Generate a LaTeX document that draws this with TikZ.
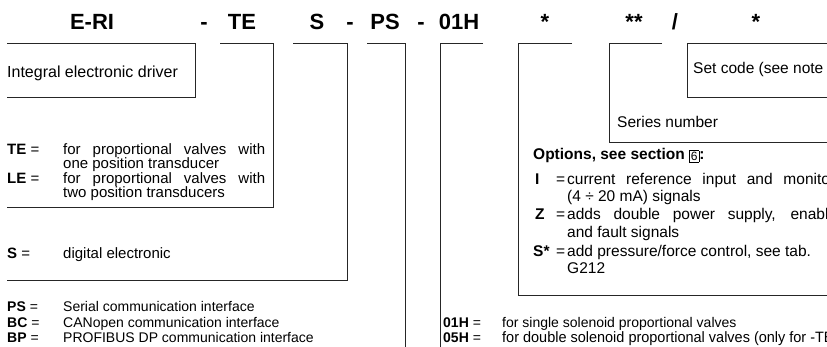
\documentclass[tikz,border=0pt]{standalone}
\usepackage{fontspec}
\setmainfont{Liberation Sans}
\usetikzlibrary{positioning}

% small framed section number
\newcommand{\secbox}[1]{{\setlength{\fboxsep}{1.2pt}\setlength{\fboxrule}{0.6pt}\raisebox{-0.5pt}{\fbox{\fontsize{12}{12}\selectfont\mdseries #1}}}}
% justified line of given width
\newcommand{\jline}[2]{\makebox[#1][s]{#2}}

\begin{document}
\begin{tikzpicture}[
    x=1pt, y=-1pt,
    font=\fontsize{15}{17}\selectfont,
    code/.style={anchor=base, inner sep=0pt, font=\fontsize{22}{24}\selectfont\bfseries},
    txt/.style={anchor=base west, inner sep=0pt},
    bigtxt/.style={txt, font=\fontsize{16}{18}\selectfont},
    opttxt/.style={txt, font=\fontsize{15.5}{18}\selectfont},
    smalltxt/.style={txt, font=\fontsize{14}{16}\selectfont},
    head/.style={txt, font=\fontsize{15.5}{18}\selectfont\bfseries},
    rule/.style={draw=black!85, line width=0.9pt}
]
    \useasboundingbox (0,0) rectangle (827,347);
    \clip (0,0) rectangle (827,347);

    % --- code line ---
    \node[code] (eri) at (92,30) {E-RI};
    \node[code] (dash1) at (204,30) {-};
    \node[code] (te) at (242,30) {TE};
    \node[code] (s) at (317,30) {S};
    \node[code] (dash2) at (350,30) {-};
    \node[code] (ps) at (385,30) {PS};
    \node[code] (dash3) at (421,30) {-};
    \node[code] (sol) at (459,30) {01H};
    \node[code] (opt) at (545,30) {*};
    \node[code] (ser) at (634,30) {**};
    \node[code] (slash) at (675,30) {/};
    \node[code] (set) at (756,30) {*};

    % --- brackets ---
    \draw[rule] (7,43) -- (195,43) -- (195,97) -- (7,97);
    \draw[rule] (220,43) -- (273,43) -- (273,207) -- (7,207);
    \draw[rule] (293,43) -- (347,43) -- (347,280) -- (7,280);
    \draw[rule] (367,43) -- (405,43) -- (405,347);
    \draw[rule] (483,43) -- (440,43) -- (440,347);
    \draw[rule] (572,43) -- (518,43) -- (518,295) -- (827,295);
    \draw[rule] (662,43) -- (609,43) -- (609,142) -- (827,142);
    \draw[rule] (827,43) -- (687,43) -- (687,97) -- (827,97);

    % --- left column ---
    \node[bigtxt] (drv) at (7,78) {Integral electronic driver};

    \node[txt] (tekey) at (7,155) {\textbf{TE} =};
    \node[txt] (te1) at (63,155) {\jline{202pt}{for proportional valves with}};
    \node[txt] (te2) at (63,169) {one position transducer};
    \node[txt] (lekey) at (7,184) {\textbf{LE} =};
    \node[txt] (le1) at (63,184) {\jline{202pt}{for proportional valves with}};
    \node[txt] (le2) at (63,198) {two position transducers};

    \node[txt] (skey) at (7,259) {\textbf{S} =};
    \node[txt] (sdesc) at (63,259) {digital electronic};

    \node[smalltxt] (pskey) at (7,312) {\textbf{PS} =};
    \node[smalltxt] (psdesc) at (63,312) {Serial communication interface};
    \node[smalltxt] (bckey) at (7,327) {\textbf{BC} =};
    \node[smalltxt] (bcdesc) at (63,327) {CANopen communication interface};
    \node[smalltxt] (bpkey) at (7,342) {\textbf{BP} =};
    \node[smalltxt] (bpdesc) at (63,342) {PROFIBUS DP communication interface};

    % --- right column ---
    \node[opttxt] (setdesc) at (693,74) {Set code (see note 1)};
    \node[opttxt] (serdesc) at (617,128) {Series number};

    \node[head] (opthead) at (533,160) {Options, see section \secbox{6}:};
    \node[opttxt] (ikey) at (535,185) {\textbf{I}};
    \node[opttxt] (ieq) at (556,185) {=};
    \node[opttxt] (i1) at (567,185) {\jline{268pt}{current reference input and monitor}};
    \node[opttxt] (i2) at (567,202) {(4 ÷ 20 mA) signals};
    \node[opttxt] (zkey) at (535,220) {\textbf{Z}};
    \node[opttxt] (zeq) at (556,220) {=};
    \node[opttxt] (z1) at (567,220) {\jline{270pt}{adds double power supply, enable}};
    \node[opttxt] (z2) at (567,238) {and fault signals};
    \node[opttxt] (skey2) at (533,257) {\textbf{S*}};
    \node[opttxt] (seq) at (556,257) {=};
    \node[opttxt] (s1) at (567,257) {add pressure/force control, see tab.};
    \node[opttxt] (s2) at (567,273) {G212};

    \node[smalltxt] (hkey1) at (443,327) {\textbf{01H} =};
    \node[smalltxt] (h1) at (502,327) {for single solenoid proportional valves};
    \node[smalltxt] (hkey5) at (443,342) {\textbf{05H} =};
    \node[smalltxt] (h5) at (502,342) {\fontsize{15}{17}\selectfont\scalebox{0.965}[1]{for double solenoid proportional valves (only for -TES)}};
\end{tikzpicture}
\end{document}
